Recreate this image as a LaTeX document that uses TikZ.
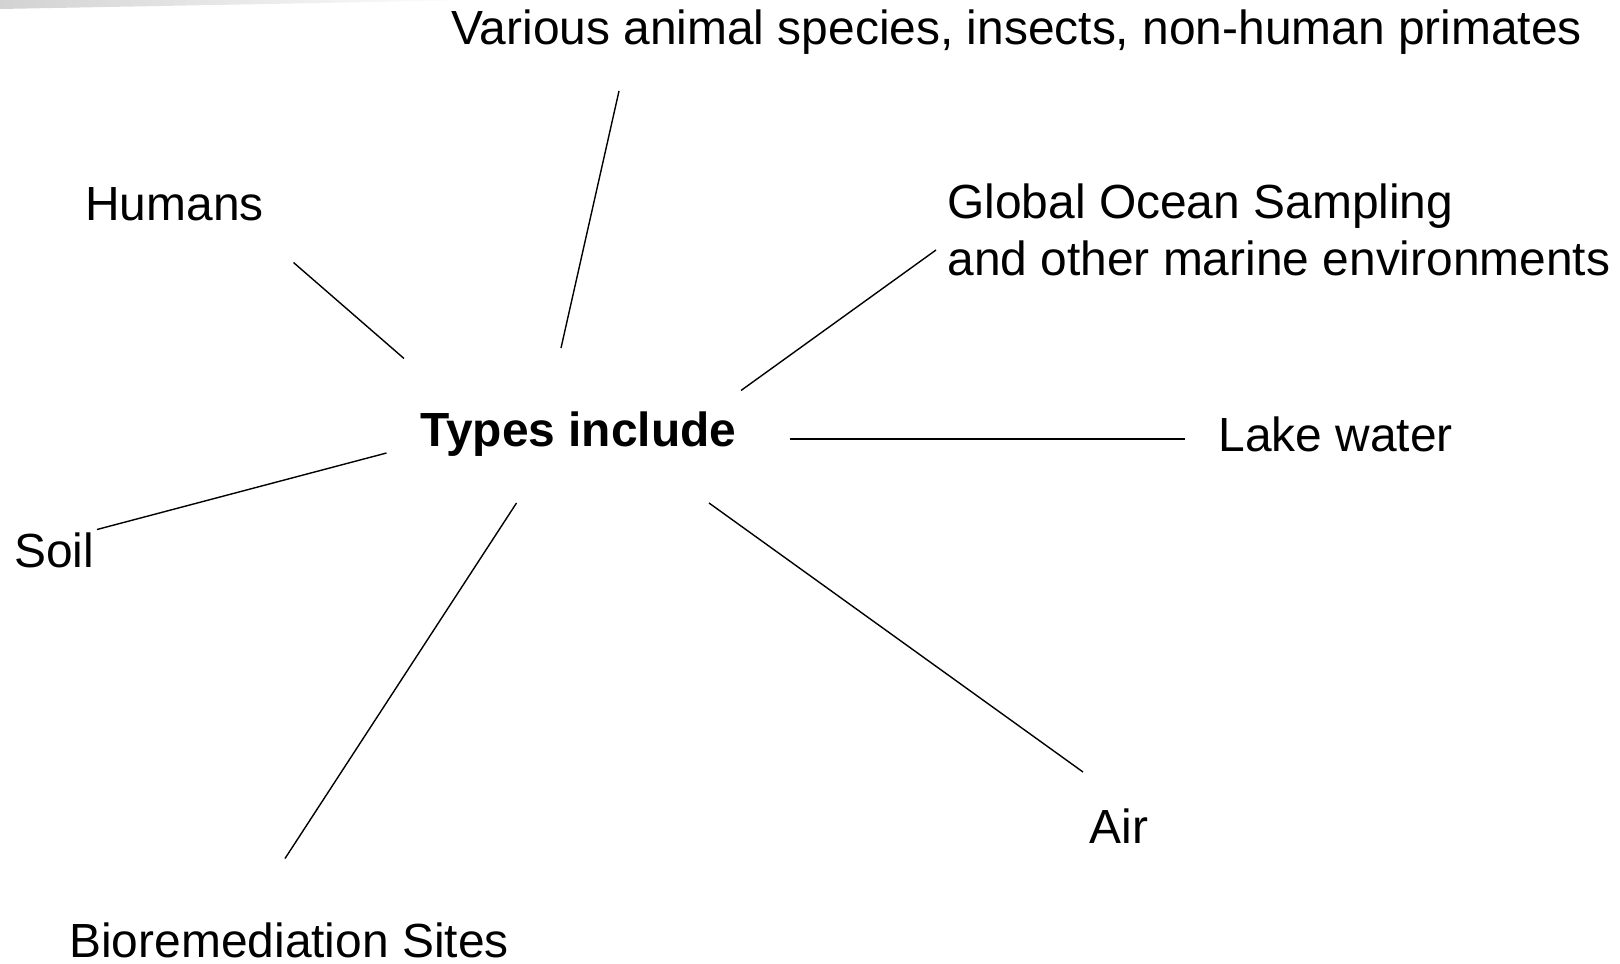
\documentclass[tikz,border=0pt]{standalone}
\usepackage{fontspec}
\setmainfont{Liberation Sans}
\usetikzlibrary{positioning}
\tikzset{%
  spoke/.style = {draw,line width=0.7pt},
  leaf/.style = {inner sep=0pt,anchor=base west,
        font=\fontsize{23.95}{28.5}\selectfont},
  hubtext/.style = {leaf,font=\fontsize{23.95}{28.5}\selectfont\bfseries}
}

\begin{document}
\begin{tikzpicture}[x=0.5pt,y=-0.5pt]
   \useasboundingbox (0,0) rectangle (1620,963);
   \shade[left color=gray!35,right color=white,draw=none]
      (0,0) -- (480,0) -- (0,9) -- cycle;

   \node[hubtext] (hub) at (420,446.5) {Types include};
   \node[leaf] (various) at (451,45) {Various animal species, insects, non-human primates};
   \node[leaf] (humans) at (85,220.5) {Humans};
   \node[leaf,align=left] (ocean) at (947,275.5) {Global Ocean Sampling\\and other marine environments};
   \node[leaf] (lake) at (1218,451.5) {Lake water};
   \node[leaf] (soil) at (14,567) {Soil};
   \node[leaf] (air) at (1089,843) {Air};
   \node[leaf,text depth=0pt] (biorem) at (69,957) {Bioremediation Sites};

   % spoke ends
   \coordinate (various-in) at (561,348);
   \coordinate (various-out) at (619,91);
   \coordinate (humans-in) at (404,358.5);
   \coordinate (humans-out) at (293.5,262.5);
   \coordinate (ocean-in) at (741,390.5);
   \coordinate (ocean-out) at (936,250);
   \coordinate (lake-in) at (789.5,439);
   \coordinate (lake-out) at (1185,439);
   \coordinate (soil-in) at (386.5,453);
   \coordinate (soil-out) at (97,529.5);
   \coordinate (air-in) at (709,503);
   \coordinate (air-out) at (1083,772);
   \coordinate (biorem-in) at (516.5,503);
   \coordinate (biorem-out) at (285,858.5);

   \foreach \s in {various,humans,ocean,lake,soil,air,biorem}
      \draw[spoke] (\s-in) -- (\s-out);
\end{tikzpicture}
\end{document}
